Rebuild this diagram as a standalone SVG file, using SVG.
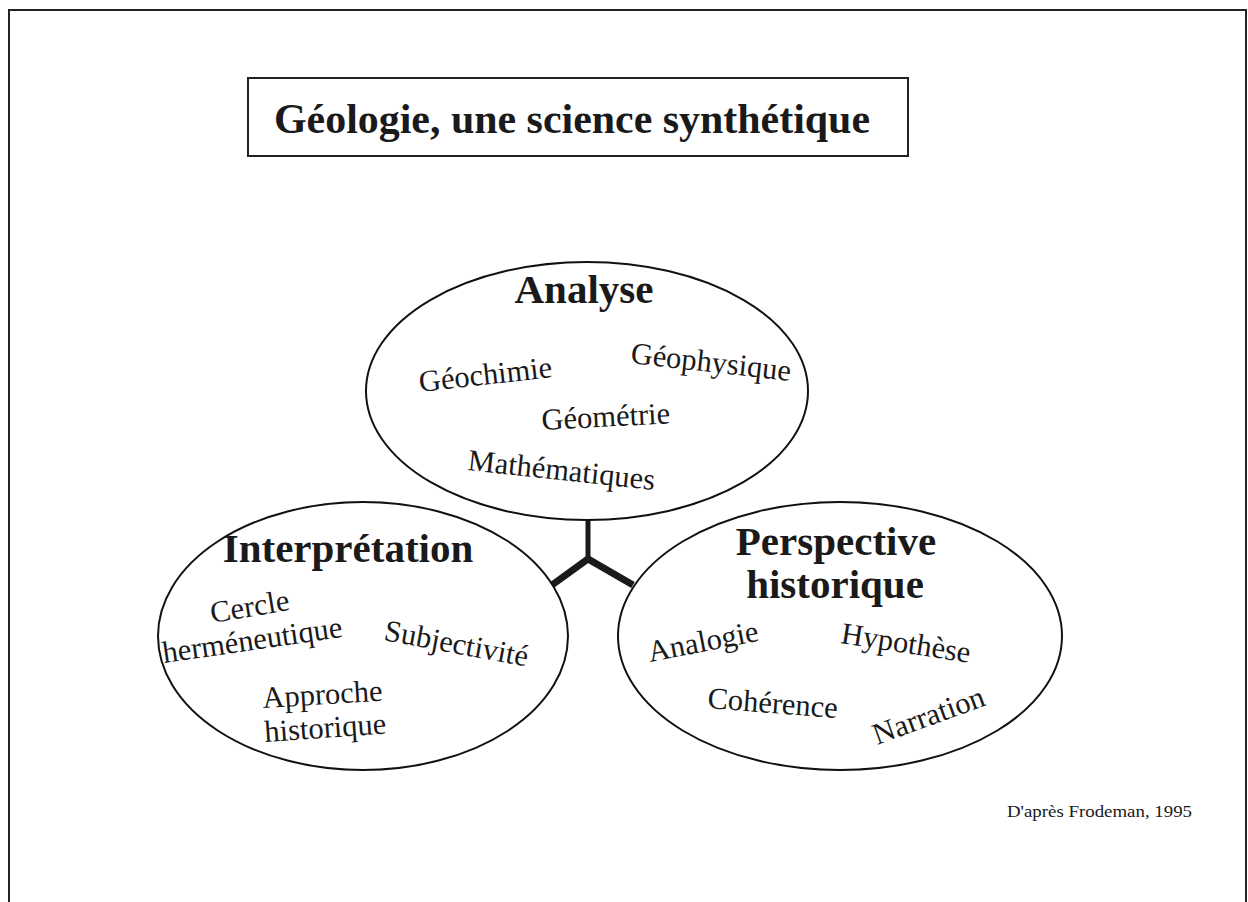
<svg xmlns="http://www.w3.org/2000/svg" width="1248" height="902" viewBox="0 0 1248 902">
<style>
.frame{fill:none;stroke:#222;stroke-width:2}
.ell{fill:none;stroke:#111;stroke-width:2}
.head{font-family:"Liberation Serif","Times New Roman",serif;font-weight:bold;font-size:41px;fill:#1a1a1a;text-anchor:middle}
.w{font-family:"Liberation Serif","Times New Roman",serif;font-size:30.5px;fill:#1a1a1a}
.title{font-family:"Liberation Serif","Times New Roman",serif;font-weight:bold;font-size:42px;fill:#1a1a1a}
.foot{font-family:"Liberation Serif","Times New Roman",serif;font-size:17px;fill:#1a1a1a}
.link{fill:none;stroke:#1a1a1a;stroke-linecap:butt;stroke-linejoin:miter}
</style>
<rect width="1248" height="902" fill="#fff"/>
<path class="frame" d="M9 902 V10 H1246 V902"/>
<g id="title">
<rect x="248" y="78" width="660" height="78" fill="none" stroke="#222" stroke-width="2"/>
<text class="title" x="274" y="133" textLength="596" lengthAdjust="spacingAndGlyphs">Géologie, une science synthétique</text>
</g>
<g id="connectors">
<path class="link" stroke-width="5" d="M588 520 V559"/>
<path class="link" stroke-width="7" d="M552 585 L588 559 L633 585"/>
</g>
<g id="analyse">
<ellipse class="ell" cx="587" cy="391" rx="221" ry="129"/>
<text class="head" x="584" y="303">Analyse</text>
<text class="w" transform="translate(420 392) rotate(-6.4)">Géochimie</text>
<text class="w" transform="translate(630 363) rotate(6.4)">Géophysique</text>
<text class="w" transform="translate(542 430) rotate(-3)">Géométrie</text>
<text class="w" transform="translate(467 470) rotate(6.1)">Mathématiques</text>
</g>
<g id="interpretation">
<ellipse class="ell" cx="363" cy="636" rx="205" ry="134"/>
<text class="head" x="348" y="562">Interprétation</text>
<text class="w" transform="translate(212 623) rotate(-9.5)">Cercle</text>
<text class="w" transform="translate(164 663) rotate(-8.3)">herméneutique</text>
<text class="w" transform="translate(383 640) rotate(10.5)">Subjectivité</text>
<text class="w" transform="translate(263 708) rotate(-3.5)">Approche</text>
<text class="w" transform="translate(265 742) rotate(-4)">historique</text>
</g>
<g id="perspective">
<ellipse class="ell" cx="840" cy="636" rx="222" ry="134"/>
<text class="head" x="836" y="555">Perspective</text>
<text class="head" x="835" y="598">historique</text>
<text class="w" transform="translate(650 662) rotate(-11)">Analogie</text>
<text class="w" transform="translate(840 643) rotate(8.7)">Hypothèse</text>
<text class="w" transform="translate(707 708) rotate(4.4)">Cohérence</text>
<text class="w" transform="translate(877 745) rotate(-20)">Narration</text>
</g>
<text class="foot" x="1007" y="817" textLength="185" lengthAdjust="spacingAndGlyphs">D'après Frodeman, 1995</text>
</svg>
